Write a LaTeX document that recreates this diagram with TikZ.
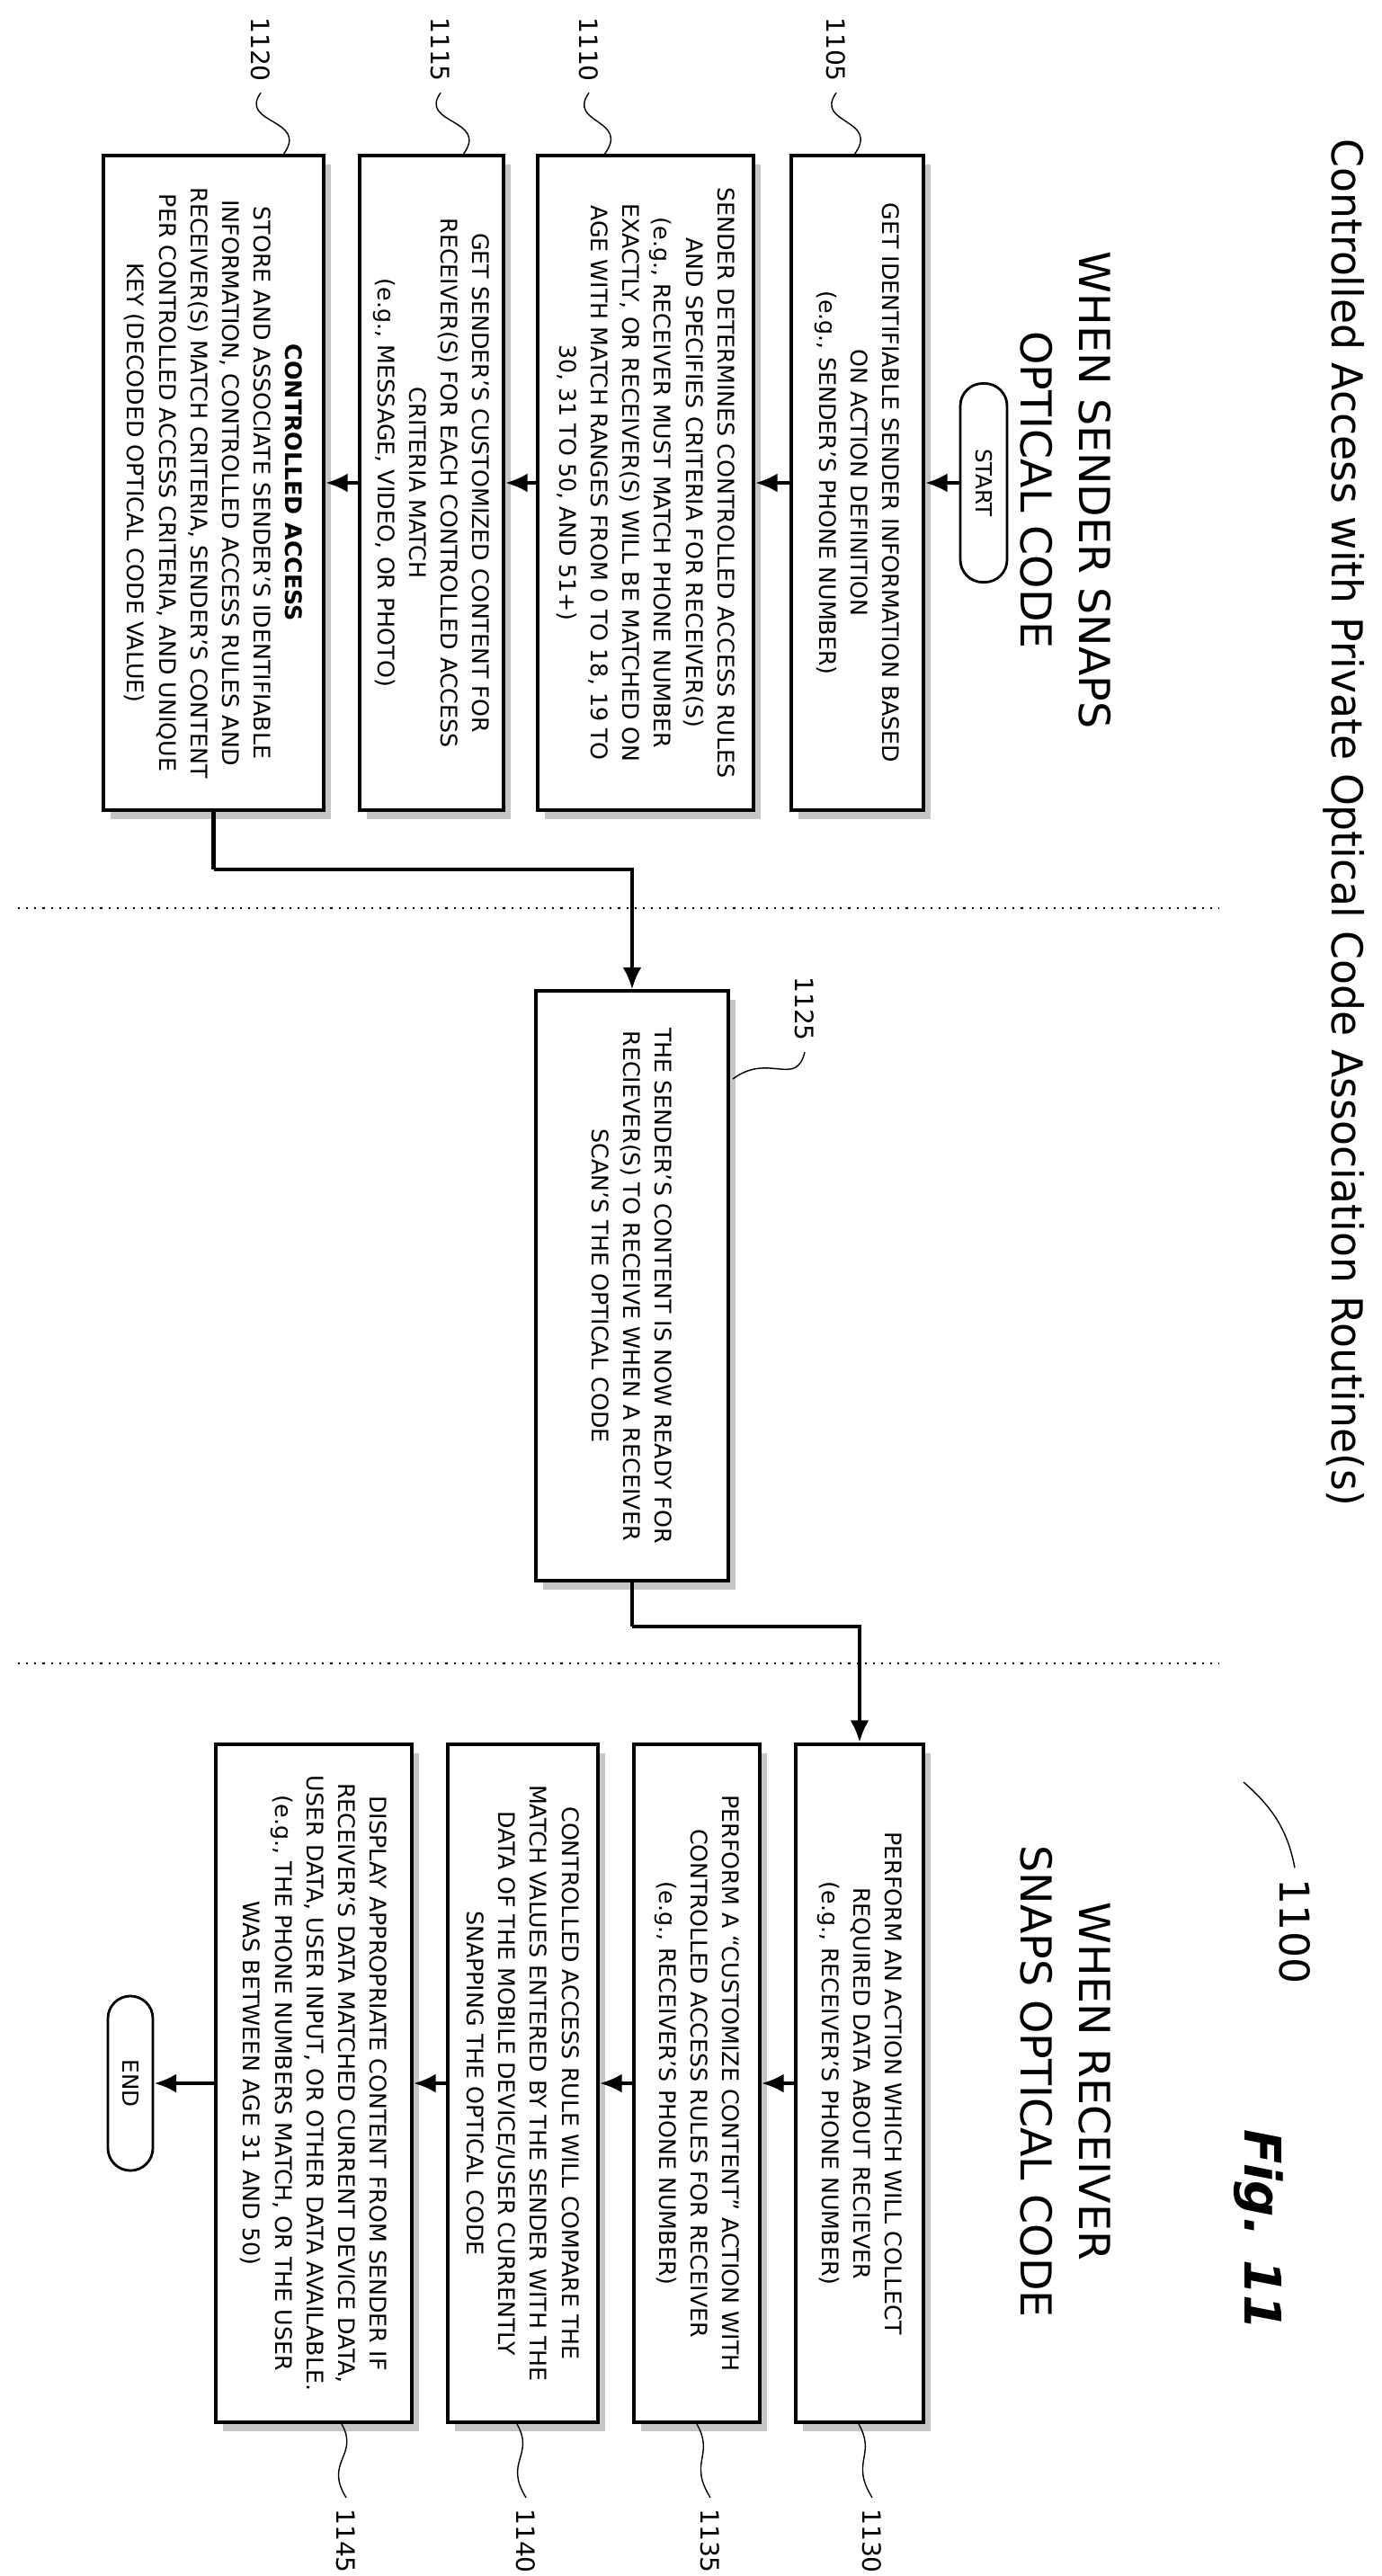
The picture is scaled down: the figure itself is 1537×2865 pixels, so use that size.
\documentclass[tikz,border=0pt]{standalone}
\usepackage{fontspec}
\setmainfont{DejaVu Sans}
\usetikzlibrary{arrows.meta,shadows}
\begin{document}
\begin{tikzpicture}[x=0.01cm,y=-0.01cm,
  box/.style={draw,line width=1.1pt,fill=white,rotate=-90,align=center,
    font=\fontsize{7.2}{10}\selectfont,inner sep=2pt,
    general shadow={fill=gray!45,shadow xshift=0.08cm,shadow yshift=-0.1cm}},
  term/.style={draw,line width=0.8pt,rounded corners=0.25cm,rotate=-90,
    font=\fontsize{7}{9}\selectfont,minimum height=0.52cm},
  arr/.style={line width=1.2pt,-{Latex[length=7pt,width=6pt]}},
  conn/.style={line width=1.2pt},
  ref/.style={rotate=-90,font=\fontsize{8}{9}\selectfont},
  lead/.style={line width=0.4pt},
  sep/.style={dotted,line width=0.6pt},
  head/.style={rotate=-90,align=center,font=\fontsize{13.5}{18.5}\selectfont}]
\useasboundingbox (0,0) rectangle (1537,2865);
% titles
\node[rotate=-90,font=\fontsize{13.5}{16}\selectfont] (title) at (1495,915) {\resizebox{15.2cm}{\height}{Controlled Access with Private Optical Code Association Routine(s)}};
\node[head] (hs) at (1185,545) {WHEN SENDER SNAPS\\OPTICAL CODE};
\node[head] (hr) at (1185,2315) {WHEN RECEIVER\\SNAPS OPTICAL CODE};
\node[rotate=-90,font=\fontsize{16}{18}\selectfont\bfseries\itshape] (fig) at (1400,2480) {Fig. 11};
\node[rotate=-90,font=\fontsize{13}{15}\selectfont] (l1100) at (1440,2148) {1100};
\coordinate (c1100) at (1383,1982);
\draw[lead] (c1100) .. controls (1415,2010) and (1432,2035) .. (l1100.west);
% separators
\coordinate (s1a) at (20,1010); \coordinate (s1b) at (1355,1010);
\coordinate (s2a) at (20,1850); \coordinate (s2b) at (1355,1850);
\draw[sep] (s1a) -- (s1b);
\draw[sep] (s2a) -- (s2b);
% sender
\node[term,minimum width=2.21cm] (start) at (1094,537) {START};
\node[box,minimum width=7.27cm,minimum height=1.47cm] (b1105) at (953.5,537) {GET IDENTIFIABLE SENDER INFORMATION BASED\\ON ACTION DEFINITION\\(e.g., SENDER'S PHONE NUMBER)};
\node[box,minimum width=7.27cm,minimum height=2.40cm] (b1110) at (718,537) {SENDER DETERMINES CONTROLLED ACCESS RULES\\AND SPECIFIES CRITERIA FOR RECEIVER(S)\\(e.g., RECEIVER MUST MATCH PHONE NUMBER\\EXACTLY, OR RECEIVER(S) WILL BE MATCHED ON\\AGE WITH MATCH RANGES FROM 0 TO 18, 19 TO\\30, 31 TO 50, AND 51+)};
\node[box,minimum width=7.27cm,minimum height=1.60cm] (b1115) at (480,537) {GET SENDER'S CUSTOMIZED CONTENT FOR\\RECEIVER(S) FOR EACH CONTROLLED ACCESS\\CRITERIA MATCH\\(e.g., MESSAGE, VIDEO, OR PHOTO)};
\node[box,minimum width=7.27cm,minimum height=2.45cm] (b1120) at (237.5,537) {\textbf{CONTROLLED ACCESS}\\STORE AND ASSOCIATE SENDER'S IDENTIFIABLE\\INFORMATION, CONTROLLED ACCESS RULES AND\\RECEIVER(S) MATCH CRITERIA, SENDER'S CONTENT\\PER CONTROLLED ACCESS CRITERIA, AND UNIQUE\\KEY (DECODED OPTICAL CODE VALUE)};
\draw[arr] (start.south) -- (b1105.north);
\draw[arr] (b1105.south) -- (b1110.north);
\draw[arr] (b1110.south) -- (b1115.north);
\draw[arr] (b1115.south) -- (b1120.north);
% middle
\node[box,minimum width=6.55cm,minimum height=2.14cm] (b1125) at (703,1430) {THE SENDER'S CONTENT IS NOW READY FOR\\RECIEVER(S) TO RECEIVE WHEN A RECEIVER\\SCAN'S THE OPTICAL CODE};
\coordinate (j1) at (237.5,967);
\coordinate (j2) at (703,1809);
\draw[conn] (b1120.east) -- (j1);
\draw[arr] (j1) -| (b1125.west);
\draw[conn] (b1125.east) -- (j2);
% receiver
\node[box,minimum width=7.54cm,minimum height=1.42cm] (b1130) at (956,2317) {PERFORM AN ACTION WHICH WILL COLLECT\\REQUIRED DATA ABOUT RECIEVER\\(e.g., RECEIVER'S PHONE NUMBER)};
\node[box,minimum width=7.54cm,minimum height=1.40cm] (b1135) at (775,2317) {PERFORM A ``CUSTOMIZE CONTENT'' ACTION WITH\\CONTROLLED ACCESS RULES FOR RECEIVER\\(e.g., RECEIVER'S PHONE NUMBER)};
\node[box,minimum width=7.54cm,minimum height=1.67cm] (b1140) at (581.5,2317) {CONTROLLED ACCESS RULE WILL COMPARE THE\\MATCH VALUES ENTERED BY THE SENDER WITH THE\\DATA OF THE MOBILE DEVICE/USER CURRENTLY\\SNAPPING THE OPTICAL CODE};
\node[box,minimum width=7.54cm,minimum height=2.18cm] (b1145) at (349,2317) {DISPLAY APPROPRIATE CONTENT FROM SENDER IF\\RECEIVER'S DATA MATCHED CURRENT DEVICE DATA,\\USER DATA, USER INPUT, OR OTHER DATA AVAILABLE.\\(e.g., THE PHONE NUMBERS MATCH, OR THE USER\\WAS BETWEEN AGE 31 AND 50)};
\node[term,minimum width=1.94cm,minimum height=0.5cm] (end) at (145,2317) {END};
\draw[arr] (j2) -| (b1130.west);
\draw[arr] (b1130.south) -- (b1135.north);
\draw[arr] (b1135.south) -- (b1140.north);
\draw[arr] (b1140.south) -- (b1145.north);
\draw[arr] (b1145.south) -- (end.north);
% reference numerals (top)
\foreach \n/\lx/\bx in {1105/930/950,1110/655/672,1115/490/515,1120/290/315}{
  \node[ref] (r\n) at (\lx,55) {\n};
  \coordinate (e\n) at (\bx,172);
  \draw[lead] (r\n.east) .. controls ++(-25,35) and ++(30,-40) .. (e\n);
}
\node[ref] (r1125) at (895,1122) {1125};
\coordinate (e1125) at (815,1200);
\draw[lead] (r1125.east) .. controls ++(-10,40) and ++(40,-30) .. (e1125);
% reference numerals (bottom)
\foreach \n/\lx/\bx in {1130/970/955,1135/790/775,1140/585/575,1145/385/380}{
  \node[ref] (r\n) at (\lx,2826) {\n};
  \coordinate (e\n) at (\bx,2696);
  \draw[lead] (e\n) .. controls ++(20,35) and ++(-25,-40) .. (r\n.west);
}
\end{tikzpicture}
\end{document}
